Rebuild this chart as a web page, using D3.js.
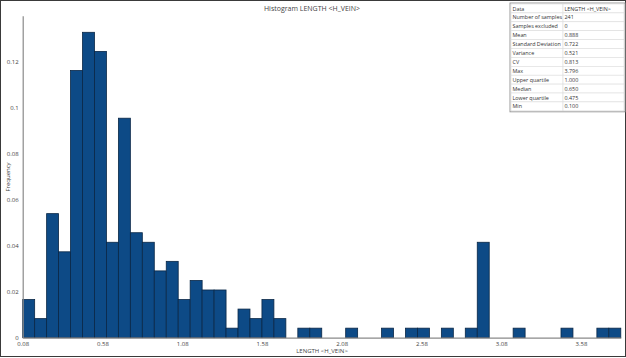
<!DOCTYPE html>
<html>
    <head>
        <script src="https://cdnjs.cloudflare.com/ajax/libs/d3/7.8.5/d3.min.js"></script>
        <title>Histogram LENGTH &lt;H_VEIN&gt;</title>
        <style>
            html, body {
                margin: 0;
                background: #fff;
            }
            .svg_canvas {
                display: block;
                font-family: "Open Sans", "Noto Sans", sans-serif;
            }
        </style>
    </head>
    <body>
        <svg height="358" width="626" class="svg_canvas"></svg>

        <script>
            // histogram counts per bin (50 bins, width 0.075, starting at 0.08)
            var binStart = 0.08;
            var binWidth = 0.075;
            var binCounts = [4, 2, 13, 9, 28, 32, 30, 10, 23, 11,
                             10, 7, 8, 4, 6, 5, 5, 1, 3, 2,
                             4, 2, 0, 1, 1, 0, 0, 1, 0, 0,
                             1, 0, 1, 1, 0, 1, 0, 1, 10, 0,
                             0, 1, 0, 0, 0, 1, 0, 0, 1, 1];
            var sampleCount = 241;

            var xTicks = [0.08, 0.58, 1.08, 1.58, 2.08, 2.58, 3.08, 3.58];
            var yTicks = [0, 0.02, 0.04, 0.06, 0.08, 0.1, 0.12];

            var statLabels = ["Data", "Number of samples", "Samples excluded", "Mean", "Standard Deviation",
                              "Variance", "CV", "Max", "Upper quartile", "Median", "Lower quartile", "Min"];
            var statValues = ["LENGTH <H_VEIN>", "241", "0", "0.888", "0.722",
                              "0.521", "0.813", "3.796", "1.000", "0.650", "0.475", "0.100"];

            var bins = binCounts.map(function(c, i) {
                return { x0: binStart + i * binWidth, x1: binStart + (i + 1) * binWidth, freq: c / sampleCount };
            });

            var svg = d3.select(".svg_canvas");

            // outer frame
            svg.append("rect")
                .attr("x", 0.5).attr("y", 0.5)
                .attr("width", 625).attr("height", 356)
                .attr("fill", "none")
                .attr("stroke", "#3a3a3a");

            var plotLeft = 22.7, plotRight = 620.8, plotTop = 15.7, plotBottom = 337.7;

            var x = d3.scaleLinear()
                .domain([binStart, binStart + binCounts.length * binWidth])
                .range([plotLeft, plotRight]);

            var y = d3.scaleLinear()
                .domain([0, 0.14])
                .range([plotBottom, plotTop]);

            // bars
            svg.append("g")
                .selectAll("rect")
                .data(bins.filter(function(d){ return d.freq > 0; }))
                .enter()
                .append("rect")
                .attr("x", function(d){ return x(d.x0); })
                .attr("y", function(d){ return y(d.freq); })
                .attr("width", function(d){ return x(d.x1) - x(d.x0); })
                .attr("height", function(d){ return y(0) - y(d.freq); })
                .attr("fill", "#0d4a86")
                .attr("stroke", "#0a2746")
                .attr("stroke-width", 0.8);

            // axes
            var xAxis = svg.append("g")
                .attr("transform", "translate(0," + plotBottom + ")")
                .call(d3.axisBottom(x).tickValues(xTicks).tickSize(0).tickPadding(4)
                    .tickFormat(d3.format(".2f")));

            var yAxis = svg.append("g")
                .attr("transform", "translate(" + plotLeft + ",0)")
                .call(d3.axisLeft(y).tickValues(yTicks).tickSize(0).tickPadding(4)
                    .tickFormat(function(d){ return String(+d.toFixed(2)); }));

            [xAxis, yAxis].forEach(function(a) {
                a.select(".domain").attr("stroke", "#8a8a8a").attr("stroke-width", 1.2);
                a.selectAll("text")
                    .attr("fill", "#444")
                    .style("font-family", "'Open Sans', 'Noto Sans', sans-serif")
                    .style("font-size", "6px");
            });

            // titles
            svg.append("text")
                .attr("x", 312).attr("y", 11)
                .attr("text-anchor", "middle")
                .attr("fill", "#444")
                .style("font-size", "7px")
                .text("Histogram LENGTH  <H_VEIN>");

            svg.append("text")
                .attr("x", 322).attr("y", 353)
                .attr("text-anchor", "middle")
                .attr("fill", "#444")
                .style("font-size", "6px")
                .text("LENGTH <H_VEIN>");

            svg.append("text")
                .attr("transform", "translate(10,177) rotate(-90)")
                .attr("text-anchor", "middle")
                .attr("fill", "#444")
                .style("font-size", "6px")
                .text("Frequency");

            // statistics table
            var tx = 510.5, ty = 3.5, rowH = 8.9, col1 = 52, col2 = 61;
            var table = svg.append("g");

            table.append("rect")
                .attr("x", tx - 0.5).attr("y", ty - 0.5)
                .attr("width", col1 + col2 + 2).attr("height", rowH * statLabels.length + 2)
                .attr("fill", "#fff")
                .attr("stroke", "#9a9a9a");

            var rows = table.selectAll("g.row")
                .data(statLabels)
                .enter()
                .append("g")
                .attr("class", "row")
                .attr("transform", function(d, i){ return "translate(" + (tx + 0.5) + "," + (ty + 0.5 + i * rowH) + ")"; });

            rows.append("rect")
                .attr("width", col1).attr("height", rowH)
                .attr("fill", "#fff").attr("stroke", "#dcdcdc").attr("stroke-width", 0.6);
            rows.append("rect")
                .attr("x", col1).attr("width", col2).attr("height", rowH)
                .attr("fill", "#fff").attr("stroke", "#dcdcdc").attr("stroke-width", 0.6);

            rows.append("text")
                .attr("x", 1.5).attr("y", rowH - 2.3)
                .attr("fill", "#333")
                .style("font-size", "5.4px")
                .text(function(d){ return d; });
            rows.append("text")
                .attr("x", col1 + 1.5).attr("y", rowH - 2.3)
                .attr("fill", "#333")
                .style("font-size", "5.4px")
                .text(function(d, i){ return statValues[i]; });
        </script>
    </body>
</html>
